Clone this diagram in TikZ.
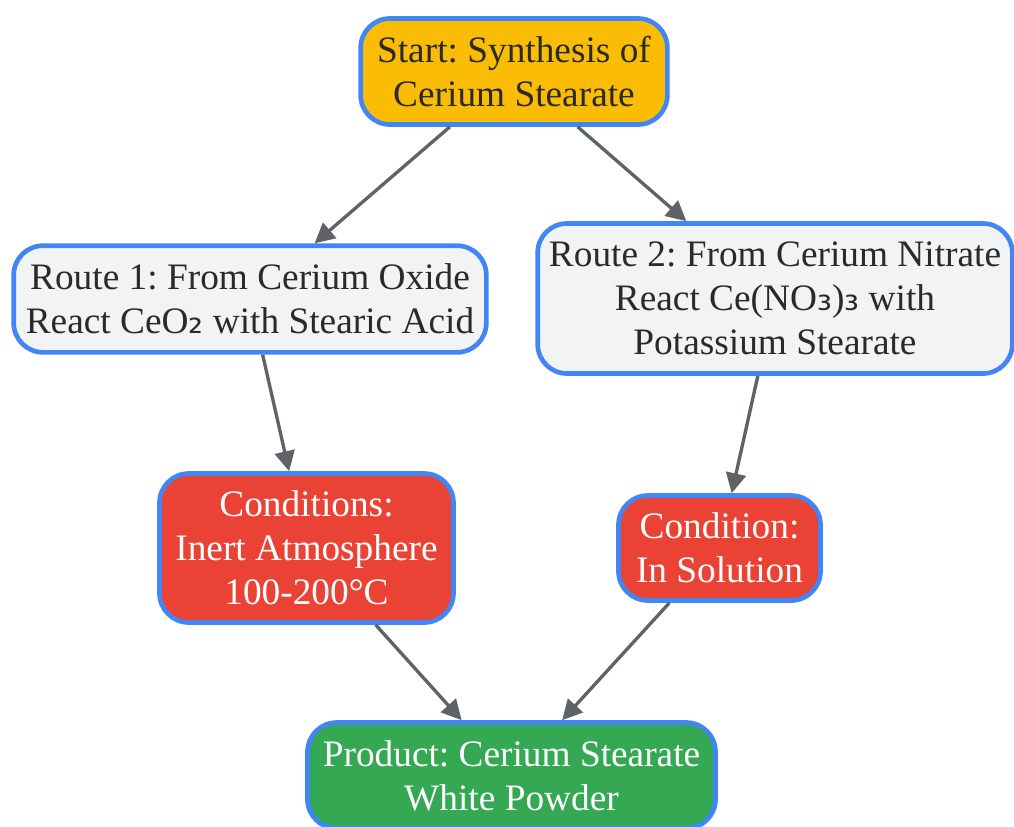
\documentclass[tikz,border=0pt]{standalone}
\usepackage{fontspec}
\setmainfont{Liberation Serif}
\newfontfamily\dvsub{DejaVu Sans}
\usetikzlibrary{arrows.meta}
\frenchspacing
\definecolor{bordblue}{HTML}{4285F4}
\definecolor{startfill}{HTML}{FBBC05}
\definecolor{routefill}{HTML}{F1F3F4}
\definecolor{condfill}{HTML}{EA4335}
\definecolor{prodfill}{HTML}{34A853}
\definecolor{edgegray}{HTML}{5F6368}
\definecolor{darktext}{HTML}{2A2A2A}
\newcommand{\subtwo}{{\dvsub ₂}}
\newcommand{\subthree}{{\dvsub ₃}}
\tikzset{
  box/.style={draw=bordblue, line width=3.5pt, rounded corners=22pt, align=center,
    inner sep=0pt, font=\fontsize{28}{33}\selectfont},
  startbox/.style={box, fill=startfill, text=darktext},
  routebox/.style={box, fill=routefill, text=darktext},
  condbox/.style={box, fill=condfill, text=white},
  prodbox/.style={box, fill=prodfill, text=white},
  arr/.style={draw=edgegray, line width=2.5pt, -{Triangle[length=15pt,width=15pt]}}
}
\begin{document}
\begin{tikzpicture}[x=0.75pt,y=-0.75pt]
\useasboundingbox (0,0) rectangle (1014,826);
\node[startbox, minimum width=230pt, minimum height=79.5pt] (start) at (514,71.5)
  {Start: Synthesis of\\Cerium Stearate};
\node[routebox, minimum width=354.5pt, minimum height=80pt] (r1) at (250,299)
  {Route 1: From Cerium Oxide\\React CeO\subtwo{} with Stearic Acid};
\node[routebox, minimum width=356pt, minimum height=112.5pt] (r2) at (775,298.5)
  {Route 2: From Cerium Nitrate\\React Ce(NO\subthree)\subthree{} with\\Potassium Stearate};
\node[condbox, minimum width=220.5pt, minimum height=111.75pt] (c1) at (306.5,548)
  {Conditions:\\Inert Atmosphere\\100-200°C};
\node[condbox, minimum width=151.5pt, minimum height=78.75pt] (c2) at (719.5,548)
  {Condition:\\In Solution};
\node[prodbox, minimum width=306pt, minimum height=79.5pt] (prod) at (511.5,775.5)
  {Product: Cerium Stearate\\White Powder};
\draw[arr] (start) -- (r1);
\draw[arr] (start) -- (r2);
\draw[arr] (r1) -- (c1);
\draw[arr] (r2) -- (c2);
\draw[arr] (c1) -- (prod);
\draw[arr] (c2) -- (prod);
\end{tikzpicture}
\end{document}
